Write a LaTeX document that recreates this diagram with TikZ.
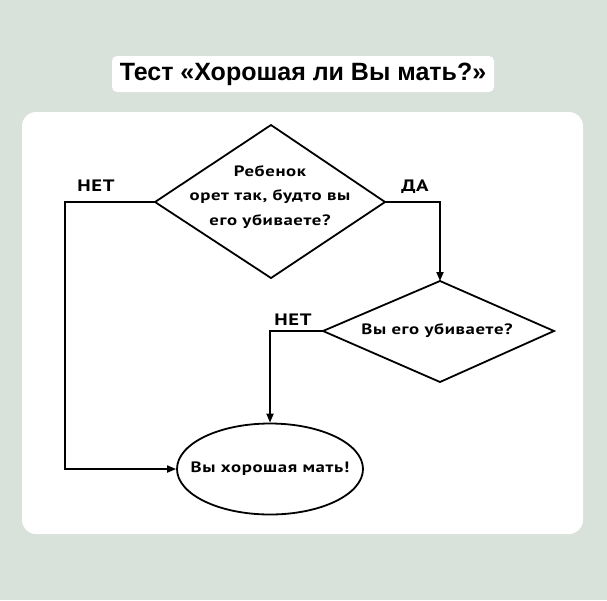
\documentclass[tikz,border=0pt]{standalone}
\usepackage{fontspec}
\setmainfont{Liberation Sans}
\newfontfamily\dfont[FakeStretch=1.25,LetterSpace=4]{PT Sans}
\usetikzlibrary{shapes.geometric,arrows.meta}
\definecolor{bgc}{HTML}{D9E1DB}
\tikzset{
  conn/.style={line width=1.8pt, line join=miter},
  arr/.style={conn, -{Triangle[length=9pt,width=7pt]}},
  lbl/.style={font=\dfont\bfseries\fontsize{16.5}{18}\selectfont, inner sep=0pt},
  dtext/.style={font=\dfont\bfseries\fontsize{15}{24.5}\selectfont, align=center, inner sep=0pt},
}
\begin{document}
\begin{tikzpicture}[x=1pt,y=-1pt]
\useasboundingbox (0,0) rectangle (607,600);
\fill[bgc] (0,0) rectangle (607,600);
% title box
\fill[white, rounded corners=5pt] (112,56) rectangle (494,92);
\node[font=\bfseries\fontsize{25}{28}\selectfont, inner sep=0pt] (title) at (303,74) {Тест «Хорошая ли Вы мать?»};
% panel
\fill[white, rounded corners=14pt] (22,112) rectangle (583,534);
% diamond 1
\coordinate (d1t) at (271,125);
\coordinate (d1b) at (271,278);
\coordinate (d1l) at (155,202);
\coordinate (d1r) at (385,202);
\draw[conn] (d1t) -- (d1r) -- (d1b) -- (d1l) -- cycle;
\node[dtext] (q1) at (270,197) {Ребенок\\орет так, будто вы\\его убиваете?};
% diamond 2
\coordinate (d2t) at (440,281);
\coordinate (d2b) at (440,382);
\coordinate (d2l) at (323,331);
\coordinate (d2r) at (554,331);
\draw[conn] (d2t) -- (d2r) -- (d2b) -- (d2l) -- cycle;
\node[dtext] (q2) at (437,331) {Вы его убиваете?};
% ellipse
\node[draw, ellipse, line width=1.8pt, minimum width=186pt, minimum height=91pt, inner sep=0pt] (end) at (270,469) {};
\node[dtext] (endt) at (270,469) {Вы хорошая мать!};
% connectors
\coordinate (c1) at (65,202);
\coordinate (c2) at (65,469);
\draw[arr] (d1l) -- (c1) -- (c2) -- (end.west);
\coordinate (c3) at (440,202);
\draw[arr] (d1r) -- (c3) -- (d2t);
\coordinate (c4) at (270,331);
\draw[arr] (d2l) -- (c4) -- (end.north);
% labels
\node[lbl] (no1) at (96,186) {НЕТ};
\node[lbl] (yes1) at (415,187) {ДА};
\node[lbl] (no2) at (293,320) {НЕТ};
\end{tikzpicture}
\end{document}
